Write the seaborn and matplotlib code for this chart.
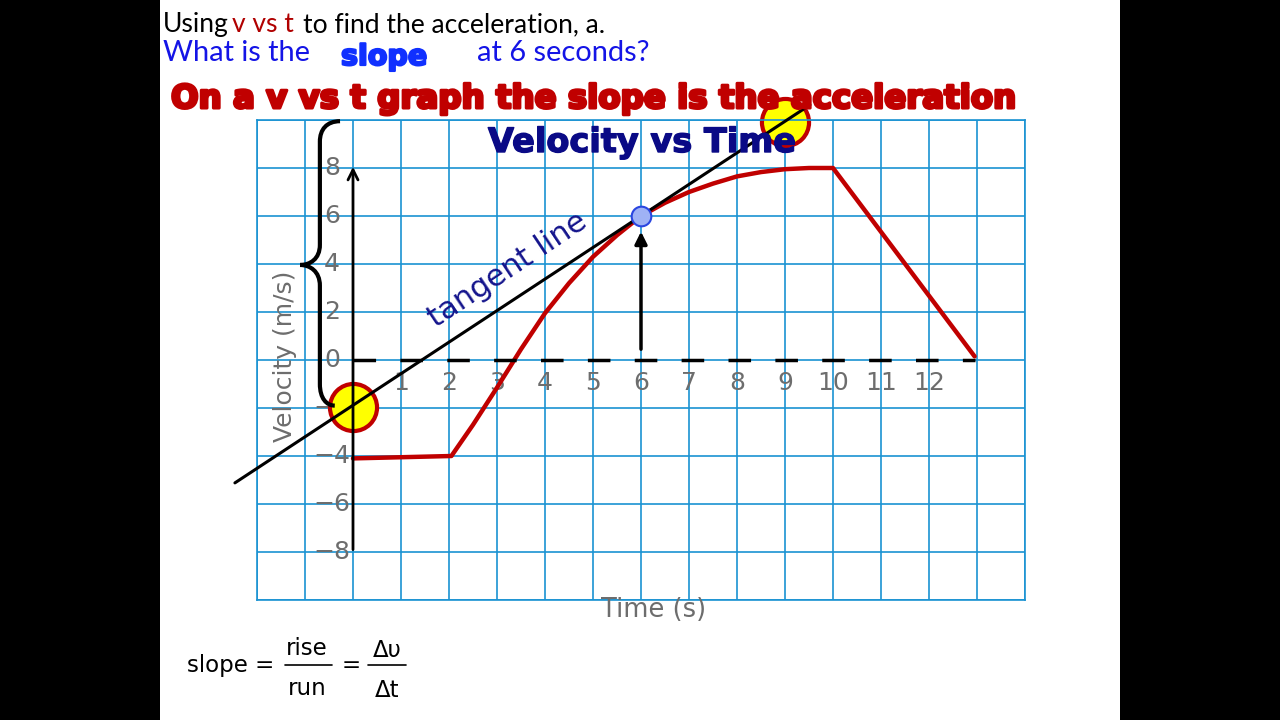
import matplotlib
matplotlib.use("Agg")
import numpy as np
import pandas as pd
import matplotlib.pyplot as plt
import matplotlib.patheffects as pe
import seaborn as sns
from matplotlib.patches import Rectangle, PathPatch
from matplotlib.path import Path
from matplotlib.lines import Line2D

# ---------------- data ----------------
time_s = [0, 2.05, 2.5, 3.0, 3.5, 4.0, 4.5, 5.0, 5.5, 6.0, 6.5, 7.0, 7.5,
          8.0, 8.5, 9.0, 9.5, 10.0, 12.95]
velocity = [-4.1, -4.0, -2.7, -1.15, 0.45, 1.95, 3.2, 4.3, 5.2, 6.0, 6.55,
            7.0, 7.35, 7.65, 7.83, 7.95, 8.0, 8.0, 0.15]
tangent_t = [-2.46, 9.52]
tangent_v = [-5.12, 10.63]
point_t = [6]
point_v = [6]
highlight_t = [0, 9.0]
highlight_v = [-1.96, 9.9]
zero_t = [0, 12.95]
zero_v = [0, 0]
x_tick_values = list(range(1, 13))
y_tick_values = [8, 6, 4, 2, 0, -2, -4, -6, -8]

GRID = "#1a92d2"
RED = "#c00000"
GRAY = "#6d6d6d"
NAVY = "#0a0a86"
BLUE = "#1414e6"

sns.set_style("white")
plt.rcParams["font.family"] = ["DejaVu Sans"]

W, H = 1280, 720
fig = plt.figure(figsize=(12.8, 7.2), dpi=100, facecolor="black")
fig.patches.append(Rectangle((160 / W, 0), 960 / W, 1, transform=fig.transFigure,
                             facecolor="white", edgecolor="none", zorder=-1))

ax = fig.add_axes([257 / W, 1 - 600 / H, 768 / W, 480 / H])
ax.set_xlim(-2, 14)
ax.set_ylim(-10, 10)
ax.set_xticks(range(-2, 15))
ax.set_yticks(range(-10, 11, 2))
ax.grid(True, color=GRID, lw=1.2)
ax.set_axisbelow(True)
ax.tick_params(length=0, labelbottom=False, labelleft=False)
for sp in ax.spines.values():
    sp.set_color(GRID)
    sp.set_linewidth(1.2)

# highlight circles
ax.scatter(highlight_t, highlight_v, s=1150, c="#ffff00", edgecolors=RED,
           linewidths=3, zorder=2.5, clip_on=False)

# red curve
df = pd.DataFrame({"t": time_s, "v": velocity})
sns.lineplot(data=df, x="t", y="v", color=RED, lw=3.2, ax=ax, zorder=3,
             sort=False)
ax.set_xlabel("")
ax.set_ylabel("")

# dashed zero line
ax.plot(zero_t, zero_v, color="black", lw=2.5, linestyle=(0, (6.5, 7.0)),
        zorder=3.5)

# y axis arrow
ax.annotate("", xy=(0, 8.05), xytext=(0, -7.9),
            arrowprops=dict(arrowstyle="->", lw=2.0, color="black",
                            mutation_scale=18, shrinkA=0, shrinkB=0),
            zorder=4, annotation_clip=False)
# arrow up to the point at 6 s
ax.annotate("", xy=(6, 5.35), xytext=(6, 0.45),
            arrowprops=dict(arrowstyle="-|>", lw=2.5, color="black",
                            mutation_scale=18, shrinkA=0, shrinkB=0),
            zorder=4)

# tangent line
ax.plot(tangent_t, tangent_v, color="black", lw=2.2, zorder=5, clip_on=False)

# tangent point
ax.scatter(point_t, point_v, s=200, c="#9fb2f5", edgecolors="#2a46e0",
           linewidths=1.5, zorder=6)

# curly brace
verts = [(-0.27, 9.95),
         (-0.55, 9.95), (-0.69, 9.6), (-0.69, 9.1),
         (-0.69, 4.8),
         (-0.69, 4.2), (-0.9, 3.96), (-1.1, 3.96),
         (-0.9, 3.96), (-0.69, 3.7), (-0.69, 3.1),
         (-0.69, -1.0),
         (-0.69, -1.6), (-0.55, -1.9), (-0.38, -1.9)]
codes = ([Path.MOVETO] + [Path.CURVE4] * 3 + [Path.LINETO] + [Path.CURVE4] * 6
         + [Path.LINETO] + [Path.CURVE4] * 3)
ax.add_patch(PathPatch(Path(verts, codes), fill=False, lw=3.0,
                       edgecolor="black", zorder=4, clip_on=False))

# tick labels
for v in y_tick_values:
    ax.text(-0.44, v, str(v).replace("-", "\u2212"), ha="center", va="center",
            fontsize=18, color=GRAY, zorder=2.2)
for t in x_tick_values:
    ax.text(t, -0.95, str(t), ha="center", va="center", fontsize=18,
            color=GRAY, zorder=2.2)

# tangent label
ax.text(3.22, 3.75, "tangent line", rotation=33.7, rotation_mode="anchor",
        ha="center", va="center", fontsize=22, color="#14148c", zorder=6)

# axis titles
fig.text(285 / W, 1 - 356 / H, "Velocity (m/s)", rotation=90, ha="center",
         va="center", fontsize=18, color=GRAY)
fig.text(654 / W, 1 - 610 / H, "Time (s)", ha="center", va="center",
         fontsize=18.5, color=GRAY)

# ---------------- slide texts ----------------
r = fig.canvas.get_renderer()


def ftext(s, x_px, base_px, size, width=None, ha="left", **kw):
    t = fig.text(x_px / W, 1 - base_px / H, s, fontsize=size, va="baseline",
                 ha=ha, **kw)
    if width:
        w = t.get_window_extent(renderer=r).width
        t.set_fontsize(size * width / w)
    return t


# line 1
t1 = ftext("to find the acceleration, a.", 303, 32, 19, width=303,
           family=["Lato", "DejaVu Sans"], color="black")
s1 = t1.get_fontsize()
ftext("Using", 163, 32, s1, family=["Lato", "DejaVu Sans"], color="black")
ftext("v vs t", 232, 32, s1, family=["Lato", "DejaVu Sans"], color="#b00000")

# line 2
t2 = ftext("at 6 seconds?", 477, 61, 19, width=173,
           family=["Lato", "DejaVu Sans"], color=BLUE)
s2 = t2.get_fontsize()
ftext("What is the", 163, 61, s2, family=["Lato", "DejaVu Sans"], color=BLUE)
ftext("slope", 341, 65, 22, width=86, fontweight="bold", color="#1030ff",
      path_effects=[pe.withStroke(linewidth=1.6, foreground="#1030ff")])

# line 3
ftext("On a v vs t graph the slope is the acceleration", 171, 108, 30,
      width=844, family=["Liberation Sans Narrow", "DejaVu Sans"],
      fontweight="bold", color=RED,
      path_effects=[pe.withStroke(linewidth=2.2, foreground=RED)])

# chart title
ftext("Velocity vs Time", 642, 152, 25, width=308, ha="center",
      fontweight="bold", color=NAVY,
      path_effects=[pe.withStroke(linewidth=1.0, foreground=NAVY)])

# formula
FS = 16.5
ftext("slope =", 187, 672, FS, color="black")
ftext("rise", 307, 655, FS, ha="center", color="black")
ftext("run", 307, 695, FS, ha="center", color="black")
ftext("=", 351, 672, FS, ha="center", color="black")
ftext("\u0394\u03c5", 387, 657, FS, ha="center", color="black")
ftext("\u0394t", 387, 697, FS, ha="center", color="black")
for x0, x1 in [(285, 332), (368, 406)]:
    fig.lines.append(Line2D([x0 / W, x1 / W], [1 - 665 / H, 1 - 665 / H],
                            transform=fig.transFigure, color="black", lw=1.2))

fig.savefig("out.png", dpi=100, facecolor=fig.get_facecolor())
